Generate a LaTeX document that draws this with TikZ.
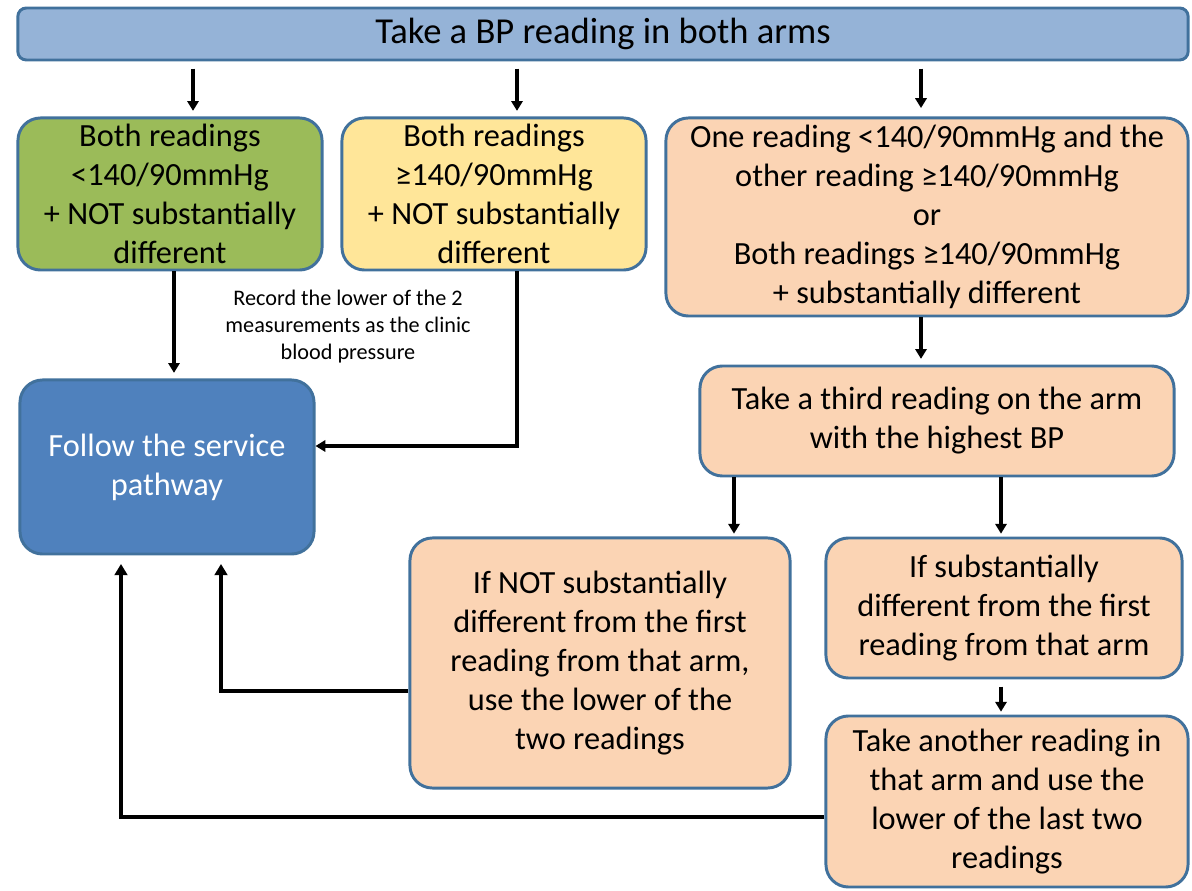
\documentclass[tikz,border=0pt]{standalone}
\usepackage{fontspec}
\setmainfont{Carlito}
\usetikzlibrary{arrows.meta}
\definecolor{boxline}{HTML}{41719C}
\definecolor{topfill}{HTML}{95B3D7}
\definecolor{greenfill}{HTML}{9BBB59}
\definecolor{yellowfill}{HTML}{FFE699}
\definecolor{peachfill}{HTML}{FBD4B4}
\definecolor{bluefill}{HTML}{4F81BD}

\tikzset{
  flowbox/.style={draw=boxline, line width=2.1pt, rounded corners=16pt, align=center,
    inner sep=0pt, font=\fontsize{23}{27.7}\selectfont},
  flowarrow/.style={line width=2.2pt, -{Triangle[width=8pt,length=7pt]}},
  returnline/.style={line width=3pt, -{Triangle[width=9pt,length=8pt]}},
}

\begin{document}
\begin{tikzpicture}[x=0.025cm, y=-0.025cm]
  %%%%% START %%%%%
  \useasboundingbox (0,0) rectangle (1192,891);

  \node[flowbox, rounded corners=6pt, fill=topfill, minimum width=29.25cm, minimum height=1.3cm,
    font=\fontsize{26}{30}\selectfont]
    (top) at (603,34) {Take a BP reading in both arms};

  \node[flowbox, fill=greenfill, minimum width=7.6cm, minimum height=3.8cm]
    (green) at (170,194) {Both readings\\<140/90mmHg\\+ NOT substantially\\different};
  \node[flowbox, fill=yellowfill, minimum width=7.6cm, minimum height=3.8cm]
    (yellow) at (494,194) {Both readings\\≥140/90mmHg\\+ NOT substantially\\different};
  \node[flowbox, fill=peachfill, minimum width=13.05cm, minimum height=4.95cm]
    (mixed) at (927,217) {One reading <140/90mmHg and the\\other reading ≥140/90mmHg\\or\\Both readings ≥140/90mmHg\\+ substantially different};

  \node[align=center, font=\fontsize{15.8}{19.2}\selectfont]
    (note) at (348,327) {Record the lower of the 2\\measurements as the clinic\\blood pressure};

  \node[flowbox, fill=bluefill, text=white, minimum width=7.35cm, minimum height=4.35cm]
    (pathway) at (167,467) {Follow the service\\pathway};

  \node[flowbox, fill=peachfill, minimum width=11.85cm, minimum height=2.75cm]
    (third) at (937,421) {Take a third reading on the arm\\with the highest BP};

  \node[flowbox, fill=peachfill, minimum width=9.5cm, minimum height=6.25cm]
    (same) at (600,663) {If NOT substantially\\different from the first\\reading from that arm,\\use the lower of the\\two readings};
  \node[flowbox, fill=peachfill, minimum width=8.9cm, minimum height=3.5cm]
    (differ) at (1004,608) {If substantially\\different from the first\\reading from that arm};
  \node[flowbox, fill=peachfill, minimum width=9.05cm, minimum height=4.275cm]
    (another) at (1007,801.5) {Take another reading in\\that arm and use the\\lower of the last two\\readings};

  % down from the first reading
  \draw[flowarrow, shorten <=5pt, shorten >=4pt] (193,0 |- top.south) -- (193,0 |- green.north);
  \draw[flowarrow, shorten <=5pt, shorten >=4pt] (517,0 |- top.south) -- (517,0 |- yellow.north);
  \draw[flowarrow, shorten <=5pt, shorten >=6pt] (921,0 |- top.south) -- (921,0 |- mixed.north);

  \draw[flowarrow, shorten >=4pt] (174,0 |- green.south) -- (174,0 |- pathway.north);
  \draw[flowarrow] (517,0 |- yellow.south) |- (pathway.east |- 0,446);

  \draw[flowarrow, shorten >=4pt] (921,0 |- mixed.south) -- (921,0 |- third.north);
  \draw[flowarrow, shorten >=2pt] (734,0 |- third.south) -- (734,0 |- same.north);
  \draw[flowarrow, shorten >=2pt] (1001,0 |- third.south) -- (1001,0 |- differ.north);
  \draw[flowarrow, shorten <=5pt, shorten >=2pt] (1001,0 |- differ.south) -- (1001,0 |- another.north);

  % back to the pathway
  \draw[returnline, shorten >=6pt] (same.west |- 0,691) -| (221,0 |- pathway.south);
  \draw[returnline, shorten >=6pt] (another.west |- 0,817) -| (121,0 |- pathway.south);
  %%%%% END %%%%%
\end{tikzpicture}
\end{document}
